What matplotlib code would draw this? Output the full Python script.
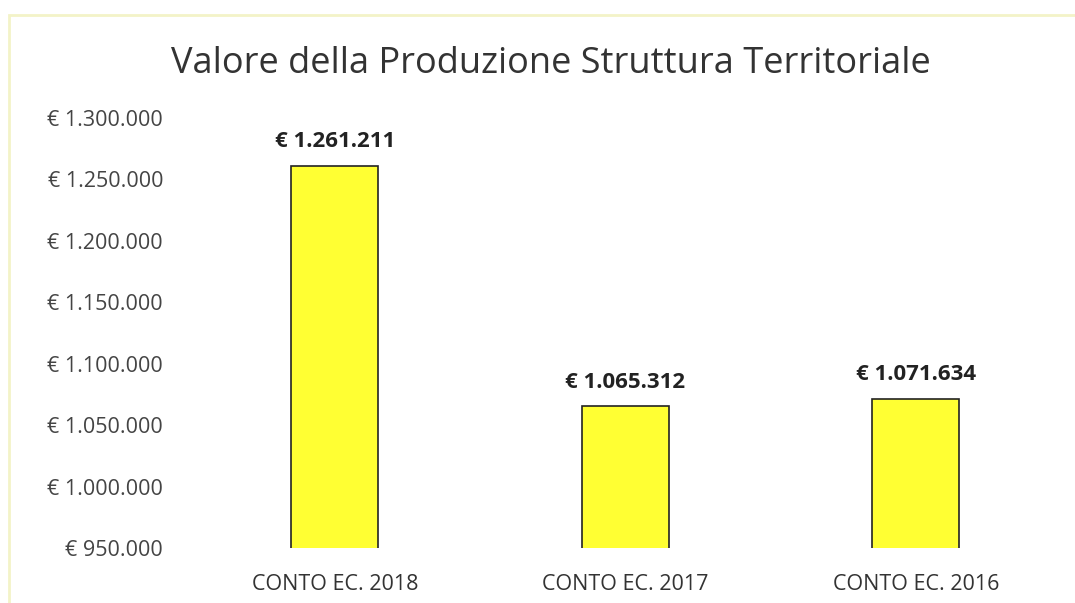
import matplotlib.pyplot as plt
from matplotlib.patches import Rectangle

categories = ['CONTO EC. 2018', 'CONTO EC. 2017', 'CONTO EC. 2016']
valori = [1261211, 1065312, 1071634]
y_ticks = [950000, 1000000, 1050000, 1100000, 1150000, 1200000, 1250000, 1300000]


def euro(v):
    return '€ ' + f'{v:,}'.replace(',', '.')


plt.rcParams['font.family'] = ['Open Sans', 'DejaVu Sans']

fig = plt.figure(figsize=(10.75, 6.03), dpi=100)
ax = fig.add_axes([189.5 / 1075, 1 - 548 / 603, (1061 - 189.5) / 1075, (548 - 118) / 603])

x = range(len(categories))
bars = ax.bar(x, valori, width=0.3, color='#ffff33', edgecolor='#222222', linewidth=1.2)

for b, v in zip(bars, valori):
    ax.text(b.get_x() + b.get_width() / 2, v + 11000, euro(v), ha='center', va='bottom',
            fontsize=16, fontweight='bold', color='#222222')

ax.set_ylim(950000, 1300000)
ax.set_xlim(-0.5, 2.5)
ax.set_yticks(y_ticks)
ax.set_yticklabels([euro(t) for t in y_ticks], fontsize=15.5, color='#444444')
ax.set_xticks(list(x))
ax.set_xticklabels(categories, fontsize=15.5, color='#333333')
ax.tick_params(axis='x', length=0, pad=19)
ax.tick_params(axis='y', length=0, pad=19)
for s in ax.spines.values():
    s.set_visible(False)

fig.text(551 / 1075, 1 - 64 / 603, 'Valore della Produzione Struttura Territoriale', ha='center', va='center',
         fontsize=26, color='#333333')

# bordo leggero del grafico
fig.patches.append(Rectangle((9 / 1075, -0.1), 1.2, 1 - 15 / 603 + 0.1, transform=fig.transFigure,
                             fill=False, edgecolor='#f3f3c8', linewidth=2))

fig.savefig('out.png', dpi=100)
